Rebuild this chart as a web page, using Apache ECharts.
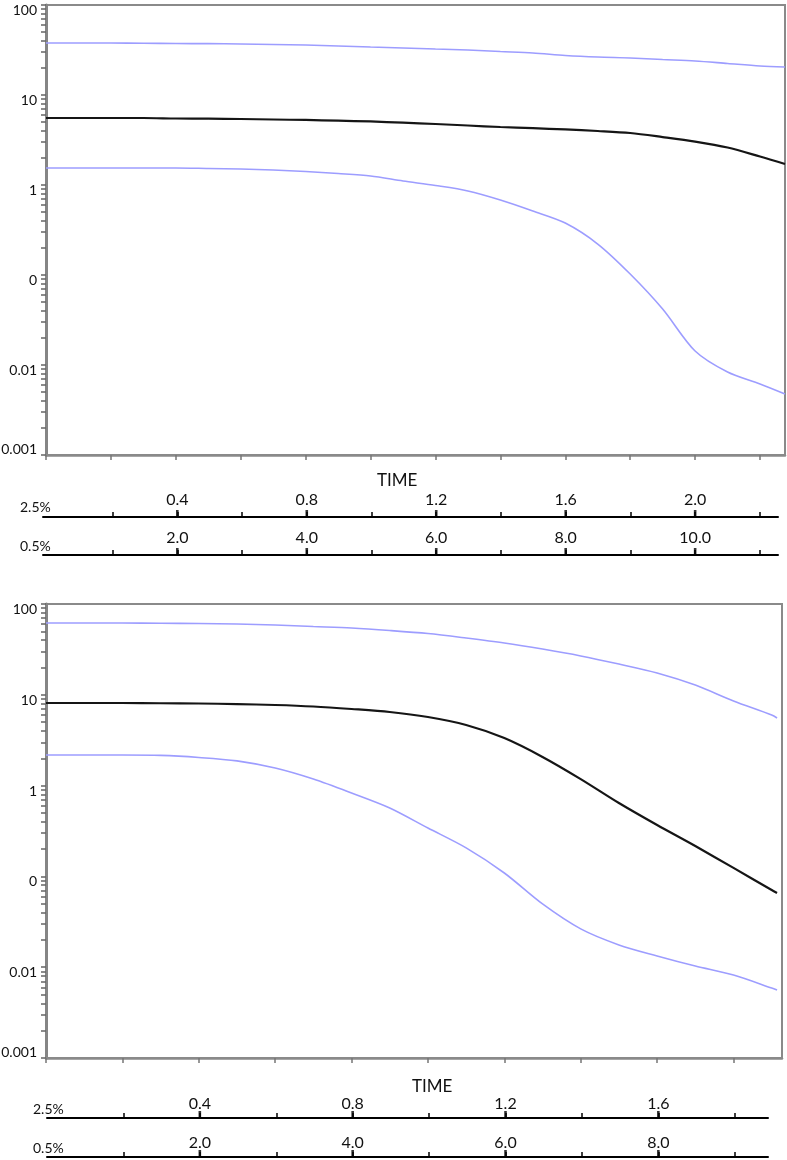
<!DOCTYPE html>
<html>
<head>
<meta charset="utf-8">
<script src="https://cdn.jsdelivr.net/npm/echarts@6/dist/echarts.min.js"></script>
<style>
  html, body { margin: 0; padding: 0; background: #fff; }
  #chart { width: 787px; height: 1160px; }
</style>
</head>
<body>
<div id="chart"></div>
<script>
// ---------- DATA ----------
const topTime   = [0, 0.1, 0.2, 0.3, 0.4, 0.5, 0.6, 0.7, 0.8, 0.9, 1.0, 1.1, 1.2, 1.3, 1.4, 1.5, 1.6, 1.7, 1.8, 1.9, 2.0, 2.1, 2.2, 2.277];
const topMedian = [5.55, 5.55, 5.55, 5.55, 5.48, 5.45, 5.41, 5.34, 5.28, 5.19, 5.08, 4.93, 4.76, 4.58, 4.41, 4.28, 4.14, 3.98, 3.78, 3.41, 3.04, 2.61, 2.07, 1.71];
const topUpper  = [37.8, 37.8, 37.8, 37.6, 37.3, 37.2, 36.9, 36.4, 35.9, 35.0, 34.1, 33.3, 32.4, 31.6, 30.4, 29.3, 27.5, 26.4, 25.8, 24.8, 23.9, 22.4, 21.0, 20.5];
const topLower  = [1.545, 1.545, 1.545, 1.545, 1.545, 1.525, 1.505, 1.468, 1.413, 1.342, 1.259, 1.108, 0.987, 0.858, 0.681, 0.514, 0.378, 0.221, 0.1026, 0.0419, 0.0143, 0.00836, 0.00615, 0.00476];

const botTime   = [0, 0.1, 0.2, 0.3, 0.4, 0.5, 0.6, 0.7, 0.8, 0.9, 1.0, 1.1, 1.2, 1.3, 1.4, 1.5, 1.6, 1.7, 1.8, 1.9, 1.914];
const botMedian = [8.12, 8.12, 8.12, 8.07, 8.02, 7.9, 7.72, 7.43, 6.98, 6.47, 5.69, 4.65, 3.34, 2.07, 1.18, 0.643, 0.368, 0.216, 0.124, 0.0709, 0.0657];
const botUpper  = [61.8, 61.8, 61.8, 61.3, 61.0, 60.2, 58.7, 56.5, 54.4, 51.1, 47.3, 42.2, 37.2, 31.9, 26.8, 21.8, 17.4, 12.8, 8.55, 5.99, 5.55];
const botLower  = [2.17, 2.17, 2.17, 2.15, 2.04, 1.87, 1.56, 1.18, 0.829, 0.567, 0.341, 0.206, 0.109, 0.0497, 0.0264, 0.0176, 0.0133, 0.0103, 0.0082, 0.0059, 0.0056];

const yDecades     = [0.001, 0.01, 0.1, 1, 10, 100];
const yTickLabels  = ['0.001', '0.01', '0', '1', '10', '100'];
const topMainTicks = [0, 0.2, 0.4, 0.6, 0.8, 1.0, 1.2, 1.4, 1.6, 1.8, 2.0, 2.2];
const botMainTicks = [0, 0.2, 0.4, 0.6, 0.8, 1.0, 1.2, 1.4, 1.6, 1.8];

const top25Major = [0.4, 0.8, 1.2, 1.6, 2.0];
const top25Minor = [0.2, 0.6, 1.0, 1.4, 1.8, 2.2];
const top25Labels = ['0.4', '0.8', '1.2', '1.6', '2.0'];
const top05Major = [2, 4, 6, 8, 10];
const top05Minor = [1, 3, 5, 7, 9, 11];
const top05Labels = ['2.0', '4.0', '6.0', '8.0', '10.0'];

const bot25Major = [0.4, 0.8, 1.2, 1.6];
const bot25Minor = [0.2, 0.6, 1.0, 1.4, 1.8];
const bot25Labels = ['0.4', '0.8', '1.2', '1.6'];
const bot05Major = [2, 4, 6, 8];
const bot05Minor = [1, 3, 5, 7, 9];
const bot05Labels = ['2.0', '4.0', '6.0', '8.0'];

// ---------- BUILD ----------
const FONT = 'Lato, "Open Sans", sans-serif';
const yMinorTicks = [];
for (let e = -3; e < 2; e++) {
  for (let k = 1; k <= 9; k++) yMinorTicks.push(+(k * Math.pow(10, e)).toPrecision(3));
}
yMinorTicks.push(100);

const grids = [];
const xAxes = [];
const yAxes = [];
const series = [];

function pairs(t, v) { return t.map((x, i) => [x, v[i]]); }

function mainPanel(top, height, width, xmax, xticks, time, med, up, lo) {
  const g = grids.length;
  grids.push({ left: 46, top: top, width: width - 1, height: height, show: true,
    borderColor: '#8a8a8a', borderWidth: 2, backgroundColor: 'transparent', outerBoundsMode: 'none' });
  xAxes.push({ type: 'value', gridIndex: g, position: 'bottom', min: 0, max: xmax,
    axisLine: { show: true, onZero: false, lineStyle: { color: '#8a8a8a', width: 2.5 } },
    axisTick: { show: true, customValues: xticks, length: 5, lineStyle: { color: '#777', width: 1.5 } },
    axisLabel: { show: false }, splitLine: { show: false } });
  yAxes.push({ type: 'log', logBase: 10, gridIndex: g, min: 0.001, max: 100,
    axisLine: { show: true, lineStyle: { color: '#858585', width: 3 } },
    axisTick: { show: true, customValues: yMinorTicks, length: 5, lineStyle: { color: '#666', width: 1.5 } },
    axisLabel: { show: true, customValues: yDecades, margin: 9, color: '#111', fontFamily: FONT, fontSize: 14,
      verticalAlign: 'top', lineHeight: 11, verticalAlignMinLabel: 'bottom',
      formatter: function (v) { return yTickLabels[Math.round(Math.log10(v)) + 3]; } },
    splitLine: { show: false }, minorTick: { show: false } });
  const xi = xAxes.length - 1, yi = yAxes.length - 1;
  const mk = (data, color, w, z) => ({ type: 'line', xAxisIndex: xi, yAxisIndex: yi, data: data,
    showSymbol: false, smooth: 0.3, lineStyle: { color: color, width: w }, z: z, animation: false });
  series.push(mk(pairs(time, up), '#9d9dff', 1.6, 2));
  series.push(mk(pairs(time, lo), '#9d9dff', 1.6, 2));
  series.push(mk(pairs(time, med), '#151515', 2.2, 3));
}

function thinGrid(top, left, width) {
  const g = grids.length;
  grids.push({ left: left, top: top, width: width, height: 1, show: false, outerBoundsMode: 'none' });
  yAxes.push({ type: 'value', gridIndex: g, min: 0, max: 1, show: false });
  return g;
}

// one scale line: grid A = line + all ticks; grid C = labels + bold major tick marks
function scaleLine(top, left, width, min, max, minor, major, labels, margin) {
  const all = minor.concat(major).sort((a, b) => a - b);
  const gA = thinGrid(top, left, width);
  xAxes.push({ type: 'value', gridIndex: gA, position: 'top', min: min, max: max,
    axisLine: { show: true, onZero: false, lineStyle: { color: '#000', width: 2 } },
    axisTick: { show: true, inside: false, customValues: all, length: 5, lineStyle: { color: '#000', width: 1.5 } },
    axisLabel: { show: false }, splitLine: { show: false } });

  const gC = thinGrid(top, left, width);
  xAxes.push({ type: 'value', gridIndex: gC, position: 'top', min: min, max: max,
    axisLine: { show: false }, axisTick: { show: false },
    axisLabel: { show: true, customValues: major.slice(), margin: margin, color: '#111', fontFamily: FONT, fontSize: 16,
      formatter: function (v) { const i = major.findIndex(m => Math.abs(m - v) < 1e-9); return i >= 0 ? labels[i] : ''; } },
    splitLine: { show: false } });
  // bold major tick marks, placed through the axis scale
  series.push({ type: 'scatter', xAxisIndex: xAxes.length - 1, yAxisIndex: yAxes.length - 1,
    data: major.map(v => [v, 1]), symbol: 'rect', symbolSize: [2.6, 7], symbolOffset: [0, -3.5],
    itemStyle: { color: '#000' }, clip: false, silent: true, z: 5, animation: false });
}

mainPanel(5, 450, 740, 2.277, topMainTicks, topTime, topMedian, topUpper, topLower);
scaleLine(517, 43, 735, -0.015, 2.256, top25Minor, top25Major, top25Labels, 9);
scaleLine(555, 43, 735, -0.075, 11.28, top05Minor, top05Major, top05Labels, 9);

mainPanel(604, 454, 737, 1.927, botMainTicks, botTime, botMedian, botUpper, botLower);
scaleLine(1118, 47, 721, 0, 1.887, bot25Minor, bot25Major, bot25Labels, 6);
scaleLine(1157, 47, 721, 0, 9.435, bot05Minor, bot05Major, bot05Labels, 6);

const txt = (text, left, top, size) => ({ text: text, left: left, top: top, padding: 0,
  textStyle: { fontFamily: FONT, fontSize: size, fontWeight: 'normal', color: '#111' } });

const option = {
  animation: false,
  backgroundColor: '#fff',
  title: [
    txt('TIME', 377, 472, 17),
    txt('2.5%', 20, 500, 14),
    txt('0.5%', 20, 539, 14),
    txt('TIME', 412, 1078, 17),
    txt('2.5%', 33, 1102, 14),
    txt('0.5%', 33, 1141, 14)
  ],
  grid: grids,
  xAxis: xAxes,
  yAxis: yAxes,
  series: series
};

const chart = echarts.init(document.getElementById('chart'), null, { renderer: 'canvas' });
chart.setOption(option);
</script>
</body>
</html>
